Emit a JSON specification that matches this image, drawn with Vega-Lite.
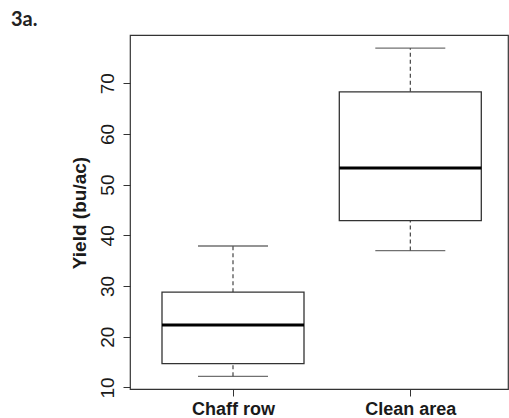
{
  "$schema": "https://vega.github.io/schema/vega-lite/v6.json",
  "width": 378,
  "height": 354,
  "autosize": {"type": "none"},
  "padding": {"left": 130, "top": 35, "right": 1, "bottom": 29},
  "background": "white",
  "title": {
    "text": "3a.",
    "anchor": "start",
    "frame": "group",
    "font": "Lato",
    "fontSize": 20,
    "fontWeight": "bold",
    "color": "#222",
    "baseline": "alphabetic",
    "offset": 0,
    "dx": -119,
    "dy": 11
  },
  "config": {
    "view": {"stroke": "#333", "strokeWidth": 1.2},
    "axis": {"labelFont": "Liberation Sans", "titleFont": "Liberation Sans", "labelColor": "#1a1a1a", "titleColor": "#1a1a1a", "tickColor": "#333", "grid": false, "domain": false},
    "axisY": {
      "values": [10, 20, 30, 40, 50, 60, 70],
      "tickSize": 7,
      "labelFontSize": 19,
      "labelAngle": 270,
      "labelAlign": "center",
      "labelBaseline": "alphabetic",
      "labelPadding": 10,
      "titleFontSize": 19,
      "titleFontWeight": "bold",
      "titleAngle": 270,
      "titleAlign": "center",
      "titleBaseline": "alphabetic",
      "titleX": -45,
      "titleY": 177.5
    }
  },
  "data": {
    "values": [
      {"group": "Chaff row", "lower": 12.2, "q1": 14.7, "median": 22.3, "q3": 28.8, "upper": 37.9},
      {"group": "Clean area", "lower": 37.0, "q1": 42.9, "median": 53.3, "q3": 68.3, "upper": 76.9}
    ]
  },
  "encoding": {
    "x": {
      "field": "group",
      "type": "nominal",
      "scale": {"type": "point", "range": [103, 280.3], "padding": 0},
      "axis": {
        "title": null,
        "labelAngle": 0,
        "labelFontSize": 18,
        "labelFontWeight": "bold",
        "tickSize": 7,
        "labelBaseline": "alphabetic",
        "labelPadding": 18
      }
    }
  },
  "layer": [
    {
      "mark": {"type": "rule", "strokeDash": [4, 3], "color": "#333", "strokeWidth": 1.1},
      "encoding": {
        "y": {
          "field": "lower",
          "type": "quantitative",
          "scale": {"domain": [9.7, 79.5], "nice": false, "zero": false},
          "title": "Yield (bu/ac)"
        },
        "y2": {"field": "q1"}
      }
    },
    {
      "mark": {"type": "rule", "strokeDash": [4, 3], "color": "#333", "strokeWidth": 1.1},
      "encoding": {
        "y": {"field": "q3", "type": "quantitative", "title": "Yield (bu/ac)"},
        "y2": {"field": "upper"}
      }
    },
    {
      "mark": {"type": "tick", "size": 70, "thickness": 1.3, "color": "#333"},
      "encoding": {"y": {"field": "lower", "type": "quantitative", "title": "Yield (bu/ac)"}}
    },
    {
      "mark": {"type": "tick", "size": 70, "thickness": 1.3, "color": "#333"},
      "encoding": {"y": {"field": "upper", "type": "quantitative", "title": "Yield (bu/ac)"}}
    },
    {
      "mark": {"type": "bar", "size": 142, "fill": "white", "stroke": "#333", "strokeWidth": 1.3},
      "encoding": {
        "y": {"field": "q1", "type": "quantitative", "title": "Yield (bu/ac)"},
        "y2": {"field": "q3"}
      }
    },
    {
      "mark": {"type": "tick", "size": 142, "thickness": 3, "color": "black", "opacity": 1},
      "encoding": {"y": {"field": "median", "type": "quantitative", "title": "Yield (bu/ac)"}}
    }
  ]
}
